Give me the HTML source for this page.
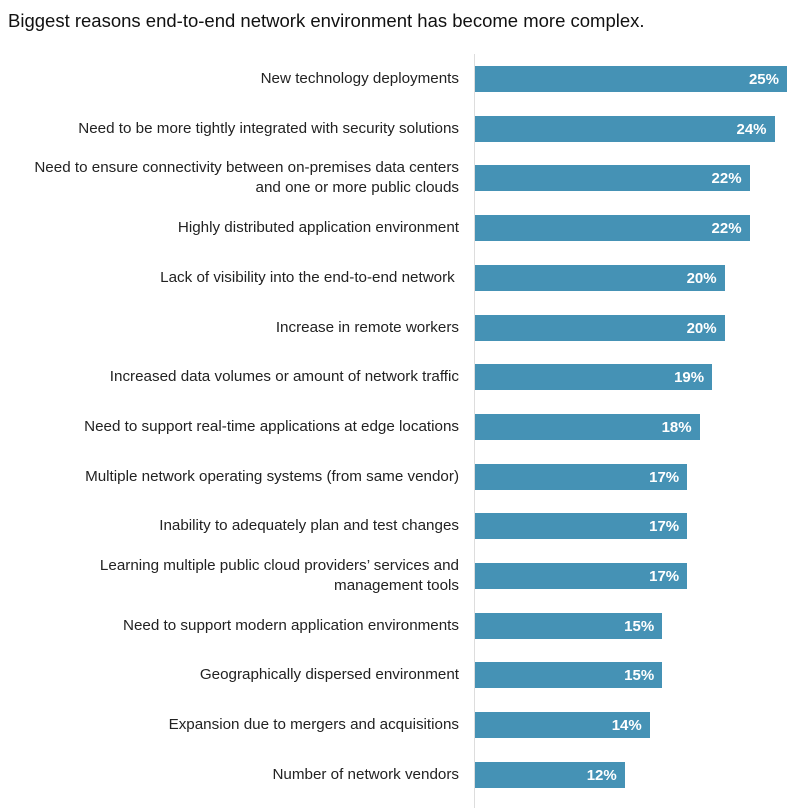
<!DOCTYPE html>
<html><head><style>
body{margin:0;width:800px;height:808px;background:#fff;font-family:"Liberation Sans",sans-serif;position:relative;overflow:hidden}
.t{position:absolute;left:8px;top:10px;font-size:18.5px;color:#111}
.ax{position:absolute;left:474px;top:54px;width:1px;height:754px;background:#ddd}
.l{position:absolute;right:341px;width:460px;text-align:right;font-size:15.2px;color:#222;line-height:20px}
.b{position:absolute;left:475px;height:26px;background:#4592b5;color:#fff;font-weight:bold;font-size:15px;line-height:27px;text-align:right;box-sizing:border-box;padding-right:8px}
</style></head><body>
<div class="t">Biggest reasons end-to-end network environment has become more complex.</div>
<div class="ax"></div>
<div id="c"></div>
<script>
var d=[["New technology deployments",25],["Need to be more tightly integrated with security solutions",24],["Need to ensure connectivity between on-premises data centers<br>and one or more public clouds",22],["Highly distributed application environment",22],["Lack of visibility into the end-to-end network&nbsp;",20],["Increase in remote workers",20],["Increased data volumes or amount of network traffic",19],["Need to support real-time applications at edge locations",18],["Multiple network operating systems (from same vendor)",17],["Inability to adequately plan and test changes",17],["Learning multiple public cloud providers’ services and<br>management tools",17],["Need to support modern application environments",15],["Geographically dispersed environment",15],["Expansion due to mergers and acquisitions",14],["Number of network vendors",12]];
var h="";
d.forEach(function(r,i){var c=79+i*49.7;var two=r[0].indexOf("<br>")>=0;
h+='<div class="l" style="top:'+(c-(two?20:10))+'px">'+r[0]+'</div>';
h+='<div class="b" style="top:'+(c-13)+'px;width:'+(r[1]*12.48)+'px">'+r[1]+'%</div>';});
document.getElementById("c").innerHTML=h;
</script>
</body></html>
